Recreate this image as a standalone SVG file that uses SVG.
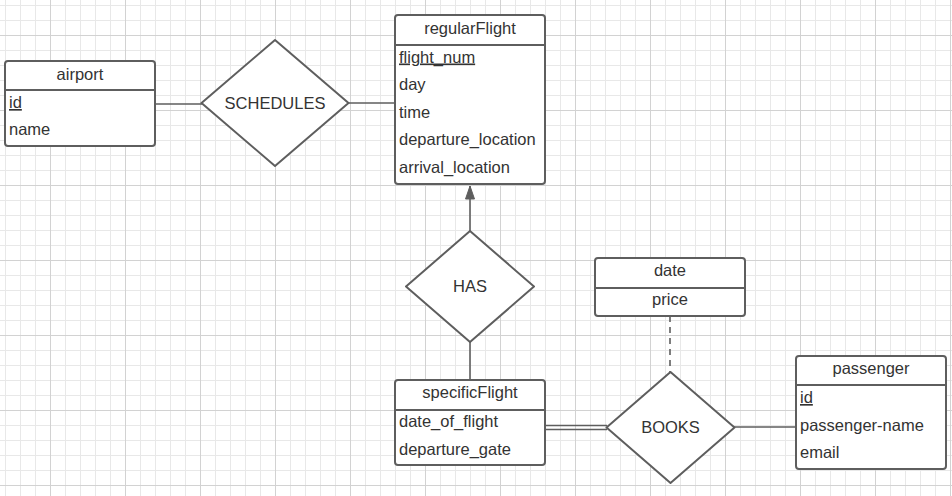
<svg xmlns="http://www.w3.org/2000/svg" width="952" height="496" viewBox="0 0 952 496">
<defs>
<pattern id="minor" patternUnits="userSpaceOnUse" x="5" y="5" width="15" height="15">
<path d="M0.5 0V15M0 0.5H15" stroke="#e8e8e8" stroke-width="1" fill="none"/>
</pattern>
<pattern id="major" patternUnits="userSpaceOnUse" x="50" y="35" width="75" height="75">
<path d="M0.5 0V75M0 0.5H75" stroke="#d2d2d2" stroke-width="1" fill="none"/>
</pattern>
<marker id="arrow" markerUnits="userSpaceOnUse" markerWidth="16" markerHeight="12" refX="15" refY="6" orient="auto" viewBox="0 0 16 12">
<path d="M15 6L2 10.5V1.5Z" fill="#5e5e5e" stroke="#5e5e5e" stroke-width="1" stroke-linejoin="round"/>
</marker>
<style>
.box{fill:#fff;stroke:#5e5e5e;stroke-width:2}
.div{stroke:#5e5e5e;stroke-width:2}
.dia{fill:#fff;stroke:#5e5e5e;stroke-width:2;stroke-linejoin:round}
.t{font-family:"Liberation Sans",Arial,sans-serif;font-size:16.5px;fill:#333}
.c{text-anchor:middle}
.u{text-decoration:underline}
.ln{stroke:#5e5e5e;stroke-width:1.6;fill:none}
</style>
</defs>
<rect width="952" height="496" fill="#fff"/>
<rect width="952" height="496" fill="url(#minor)"/>
<rect width="952" height="496" fill="url(#major)"/>

<g id="connectors">
<line class="ln" x1="155" y1="104" x2="202" y2="104"/>
<line class="ln" x1="348" y1="103" x2="395" y2="103"/>
<line class="ln" x1="470" y1="231" x2="470" y2="186" marker-end="url(#arrow)"/>
<line class="ln" x1="470" y1="342" x2="470" y2="380"/>
<line class="ln" x1="545" y1="425.5" x2="607" y2="425.5"/>
<line class="ln" x1="545" y1="429.5" x2="607" y2="429.5"/>
<line class="ln" x1="670" y1="316" x2="670" y2="372" stroke-dasharray="6,5"/>
<line class="ln" x1="734" y1="427" x2="796" y2="427"/>
</g>

<g id="airport">
<rect class="box" x="5" y="61" width="150" height="85" rx="3"/>
<line class="div" x1="5" y1="90" x2="155" y2="90"/>
<text class="t c" x="80" y="80">airport</text>
<text class="t u" x="9" y="108">id</text>
<text class="t" x="9" y="135">name</text>
</g>

<g id="schedules">
<path class="dia" d="M275 40L348.5 103L275 166L201.5 103Z"/>
<text class="t c" x="275" y="109">SCHEDULES</text>
</g>

<g id="regularFlight">
<rect class="box" x="395" y="15" width="150" height="169" rx="3"/>
<line class="div" x1="395" y1="45" x2="545" y2="45"/>
<text class="t c" x="470" y="34">regularFlight</text>
<text class="t u" x="399" y="62.5">flight_num</text>
<text class="t" x="399" y="90">day</text>
<text class="t" x="399" y="117.5">time</text>
<text class="t" x="399" y="145">departure_location</text>
<text class="t" x="399" y="172.5">arrival_location</text>
</g>

<g id="has">
<path class="dia" d="M470 231L534 286.5L470 342L406 286.5Z"/>
<text class="t c" x="470" y="292">HAS</text>
</g>

<g id="specificFlight">
<rect class="box" x="395" y="380" width="150" height="85" rx="3"/>
<line class="div" x1="395" y1="410" x2="545" y2="410"/>
<text class="t c" x="470" y="398">specificFlight</text>
<text class="t" x="399" y="427">date_of_flight</text>
<text class="t" x="399" y="455">departure_gate</text>
</g>

<g id="date">
<rect class="box" x="595" y="258" width="150" height="58" rx="3"/>
<line class="div" x1="595" y1="288" x2="745" y2="288"/>
<text class="t c" x="670" y="276">date</text>
<text class="t c" x="670" y="305">price</text>
</g>

<g id="books">
<path class="dia" d="M670.5 372L734.5 427.5L670.5 483L606.5 427.5Z"/>
<text class="t c" x="670.5" y="433">BOOKS</text>
</g>

<g id="passenger">
<rect class="box" x="796" y="356" width="150" height="113" rx="3"/>
<line class="div" x1="796" y1="385" x2="946" y2="385"/>
<text class="t c" x="871" y="374">passenger</text>
<text class="t u" x="800" y="403">id</text>
<text class="t" x="800" y="431">passenger-name</text>
<text class="t" x="800" y="458">email</text>
</g>
</svg>
